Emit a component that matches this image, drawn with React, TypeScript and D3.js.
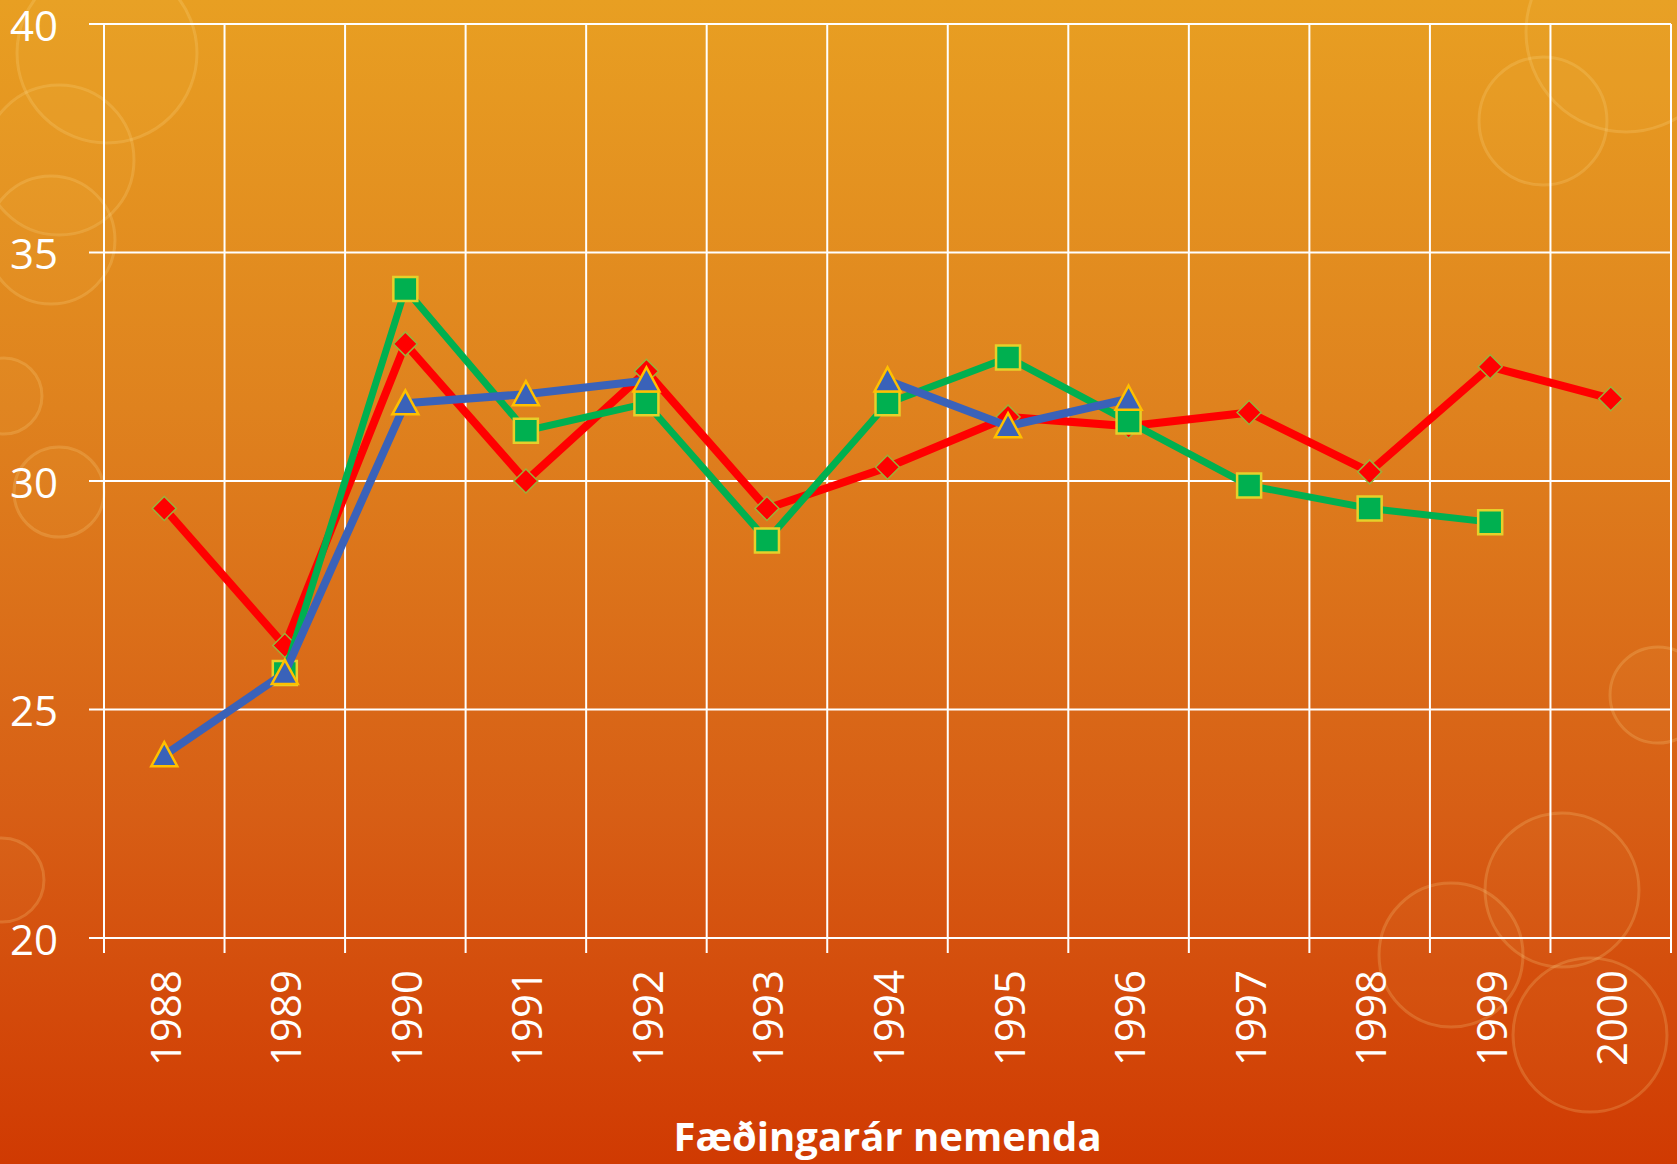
import React, { useEffect } from "react";
import * as d3 from "d3";

// chart data
const years = ["1988", "1989", "1990", "1991", "1992", "1993", "1994", "1995", "1996", "1997", "1998", "1999", "2000"];
const redValues = [29.4, 26.4, 33.0, 30.0, 32.4, 29.4, 30.3, 31.4, 31.2, 31.5, 30.2, 32.5, 31.8];
const greenValues = [null, 25.8, 34.2, 31.1, 31.7, 28.7, 31.7, 32.7, 31.3, 29.9, 29.4, 29.1, null];
const blueValues = [24.0, 25.8, 31.7, 31.9, 32.2, null, 32.2, 31.2, 31.8, null, null, null, null];
const yTicks = [20, 25, 30, 35, 40];
const xTitle = "Fæðingarár nemenda";

// faint background bubbles (decoration only)
const bubbles = [
  [107, 53, 90], [59, 160, 75], [51, 240, 64], [59, 492, 45], [4, 396, 38],
  [1543, 121, 64], [1626, 32, 100], [1562, 890, 77], [1590, 1035, 77],
  [1451, 955, 72], [1658, 695, 48], [2, 880, 42],
];

const W = 1677;
const H = 1164;
const margin = { top: 24, right: 6, bottom: 226, left: 104 };
const FONT = "'Open Sans', 'Noto Sans', sans-serif";

export default function App() {
  useEffect(() => {
    document.body.style.margin = "0";
    document.body.style.overflow = "hidden";
  }, []);

  const x = d3
    .scaleBand<string>()
    .domain(years)
    .range([margin.left, W - margin.right])
    .padding(0);
  const y = d3
    .scaleLinear()
    .domain([20, 40])
    .range([H - margin.bottom, margin.top]);

  const cx = (i: number) => (x(years[i]) as number) + x.bandwidth() / 2;
  const line = d3
    .line<number | null>()
    .defined((d) => d != null)
    .x((_, i) => cx(i))
    .y((d) => y(d as number));

  const x0 = margin.left;
  const x1 = W - margin.right;
  const y0 = y(20);
  const y1 = y(40);
  const bounds = d3.range(years.length + 1).map((i) => x0 + i * x.step());

  const diamond = (px: number, py: number) =>
    `M${px},${py - 12}L${px + 12},${py}L${px},${py + 12}L${px - 12},${py}Z`;
  const square = (px: number, py: number) =>
    `M${px - 12},${py - 12}h24v24h-24Z`;
  const triangle = (px: number, py: number) =>
    `M${px},${py - 13}L${px + 13},${py + 11}L${px - 13},${py + 11}Z`;

  const series = [
    { values: redValues, color: "#FF0000", width: 8, marker: diamond, fill: "#FF0000", stroke: "#9BB03A", sw: 1.5 },
    { values: greenValues, color: "#00B050", width: 7, marker: square, fill: "#00B050", stroke: "#E6D02A", sw: 2.5 },
    { values: blueValues, color: "#3A62B9", width: 8, marker: triangle, fill: "#3A62B9", stroke: "#FFC000", sw: 2.5 },
  ];

  return (
    <svg width={W} height={H} style={{ display: "block" }}>
      <defs>
        <linearGradient id="bg" x1="0" y1="0" x2="0" y2="1">
          <stop offset="0%" stopColor="#E89F22" />
          <stop offset="35%" stopColor="#DF821E" />
          <stop offset="70%" stopColor="#D75E15" />
          <stop offset="100%" stopColor="#D03A02" />
        </linearGradient>
      </defs>
      <rect width={W} height={H} fill="url(#bg)" />
      {bubbles.map(([bx, by, r], i) => (
        <circle key={i} cx={bx} cy={by} r={r} fill="rgba(255,220,140,0.04)" stroke="rgba(255,225,150,0.2)" strokeWidth={3} />
      ))}

      {/* grid */}
      {yTicks.map((t) => (
        <line key={t} x1={x0 - 15} x2={x1} y1={y(t)} y2={y(t)} stroke="#fff" strokeWidth={2} />
      ))}
      {bounds.map((bx, i) => (
        <line key={i} x1={bx} x2={bx} y1={y1} y2={y0 + 15} stroke="#fff" strokeWidth={2} />
      ))}

      {/* y labels */}
      {yTicks.map((t) => (
        <text key={t} x={58} y={y(t)} textAnchor="end" dominantBaseline="central" fill="#fff" fontSize={42} fontFamily={FONT}>
          {t}
        </text>
      ))}

      {/* x labels */}
      {years.map((yr, i) => (
        <text
          key={yr}
          transform={`translate(${cx(i)},${y0 + 32}) rotate(-90)`}
          textAnchor="end"
          dominantBaseline="central"
          fill="#fff"
          fontSize={42}
          fontFamily={FONT}
        >
          {yr}
        </text>
      ))}

      {/* series */}
      {series.map((s, k) => (
        <g key={k}>
          <path d={line(s.values) || ""} fill="none" stroke={s.color} strokeWidth={s.width} strokeLinejoin="round" />
          {s.values.map((v, i) =>
            v == null ? null : (
              <path key={i} d={s.marker(cx(i), y(v))} fill={s.fill} stroke={s.stroke} strokeWidth={s.sw} />
            )
          )}
        </g>
      ))}

      <text x={(x0 + x1) / 2} y={1151} textAnchor="middle" fill="#fff" fontSize={40} fontWeight="bold" fontFamily={FONT}>
        {xTitle}
      </text>
    </svg>
  );
}
